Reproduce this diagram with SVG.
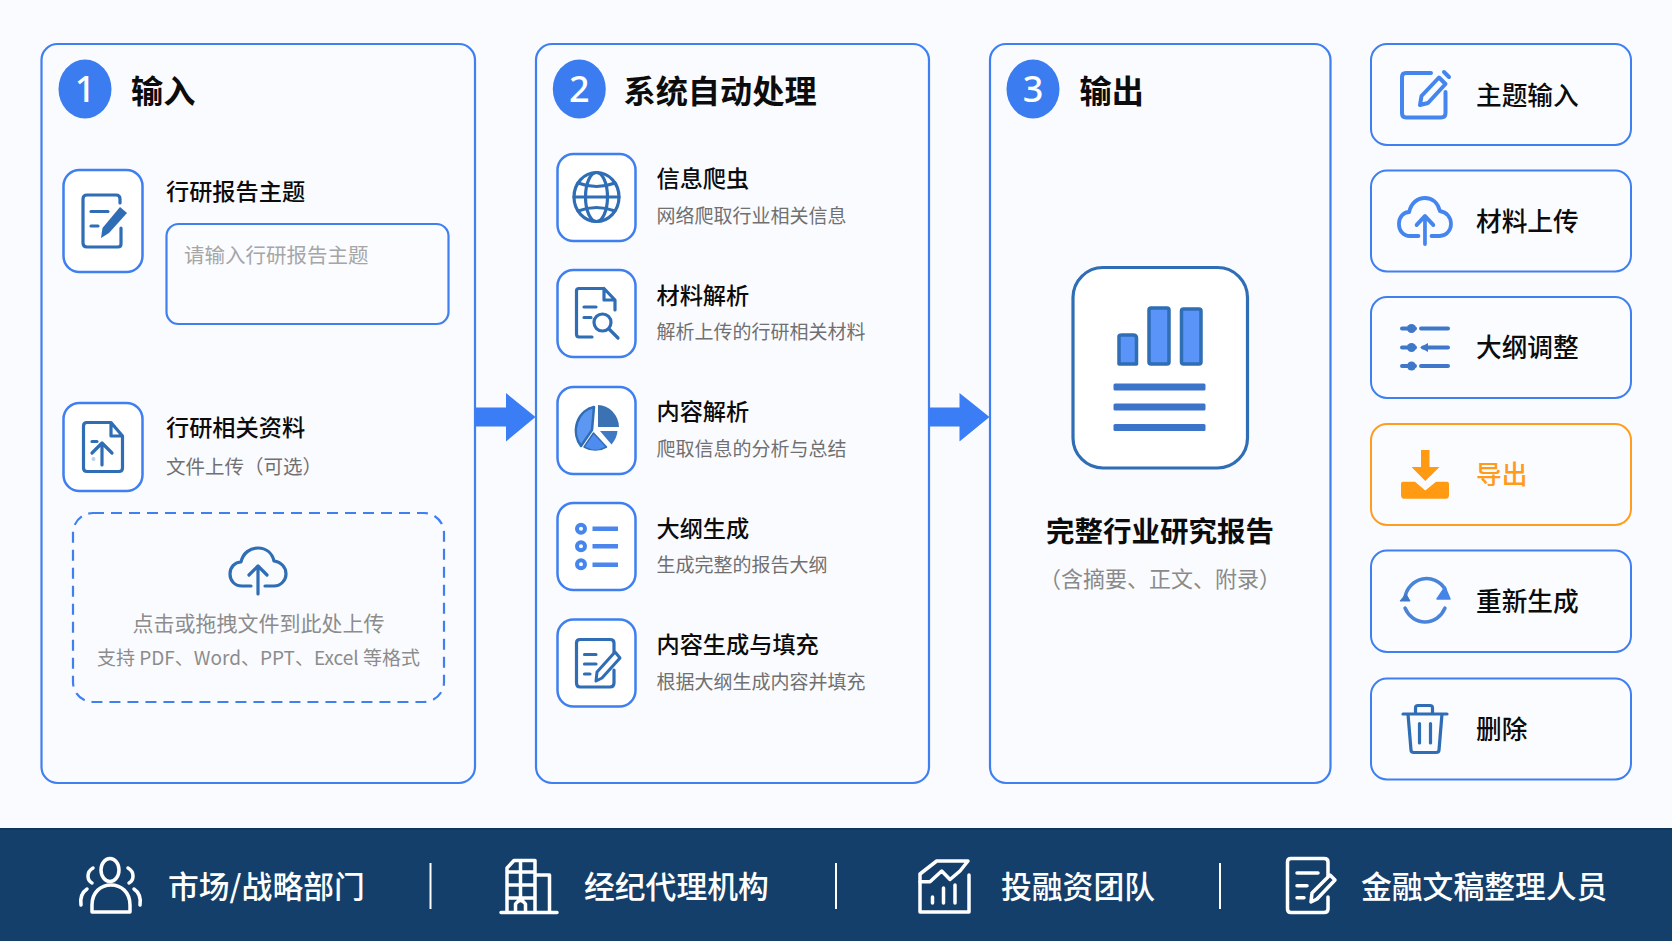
<svg xmlns="http://www.w3.org/2000/svg" width="1672" height="941" viewBox="0 0 1672 941">
<style>
text{font-family:"Noto Sans CJK SC","Noto Sans",sans-serif}
.panel{fill:#fafbff;stroke:#3f7ff0;stroke-width:2.2}
.box{fill:#fff;stroke:#3f7ff0;stroke-width:2.500}
.btn{fill:#fbfcff;stroke:#3f7ff0;stroke-width:2}
.badge{fill:#3b7df0}
.num{fill:#fff;font-size:36px;font-weight:500;text-anchor:middle;font-family:"Noto Sans","Liberation Sans",sans-serif}
.h1{fill:#0c0c0c;font-size:32.200px;font-weight:700}
.h2{fill:#0c0c0c;font-size:23.200px;font-weight:500}
.sub{fill:#707070;font-size:19px}
.btxt{fill:#0c0c0c;font-size:25.700px;font-weight:500}
.foot{fill:#fff;font-size:30.800px;font-weight:500}
.ic{fill:none;stroke:#2f6db5;stroke-width:3.200;stroke-linecap:round;stroke-linejoin:round}
.icb{fill:none;stroke:#4585ee;stroke-width:4;stroke-linecap:round;stroke-linejoin:round}
.icw{fill:none;stroke:#fff;stroke-width:3.500;stroke-linecap:round;stroke-linejoin:round}
.sep{stroke:#fff;stroke-width:2}
</style>
<defs>
<g id="cloud">
<path d="M22 39H13C5 39 1 33 1 27C1 20 6 15 12 15C14 6 21 1 29 1C37 1 43 6 45 14C52 15 57 20 57 27C57 33 52 39 45 39H36"/>
<path d="M29 47V20M20 28L29 19L38 28"/>
</g>
</defs>
<rect width="1672" height="941" fill="#fafbfe"/>

<g id="panel-input">
<rect class="panel" x="41.500" y="44" width="433.500" height="739" rx="16"/>
<ellipse class="badge" cx="85" cy="89" rx="26.500" ry="29.500"/>
<text class="num" x="85" y="102">1</text>
<text class="h1" x="131" y="103">输入</text>
</g>
<g id="node-topic">
<rect class="box" x="63.500" y="170" width="79" height="102" rx="16"/>
<path class="ic" d="M120 203V199Q120 195 116 195H87Q83 195 83 199V243Q83 247 87 247H118Q121 247 121 244V228M91 211.500H108M91 226H98"/>
<path d="M101 238L102.500 228L120 207L127 213L109 233Z" fill="#2f6db5"/>
<text class="h2" x="166" y="200">行研报告主题</text>
<rect x="166.500" y="224" width="282" height="100" rx="12" fill="#fbfcff" stroke="#3f7ff0" stroke-width="2.200"/>
<text x="184" y="263" font-size="20.500" fill="#a6a6a6">请输入行研报告主题</text>
</g>
<g id="node-material">
<rect class="box" x="63.500" y="403" width="79" height="88" rx="16"/>
<path class="ic" d="M111 422.500H87Q83.500 422.500 83.500 426V468Q83.500 471.500 87 471.500H119Q122.500 471.500 122.500 468V436ZM111 422.500V436H122.500"/>
<path class="ic" d="M102 465V443M92 453L102 443L112 453M92 441.500H97"/>
<circle cx="93.500" cy="459" r="2" fill="#b9d0ef"/>
<text class="h2" x="166" y="436">行研相关资料</text>
<text class="sub" x="166" y="474" style="font-size:19.500px">文件上传（可选）</text>
</g>
<g id="node-dropzone">
<rect x="73" y="513" width="371" height="189" rx="20" fill="none" stroke="#3f7ff0" stroke-width="2.200" stroke-dasharray="11 7"/>
<use href="#cloud" class="ic" transform="translate(229 547)"/>
<text x="258.500" y="631" font-size="21" fill="#8c8c8c" text-anchor="middle">点击或拖拽文件到此处上传</text>
<text x="258.500" y="665" font-size="19" fill="#8c8c8c" text-anchor="middle">支持 PDF、Word、PPT、Excel 等格式</text>
</g>

<g id="panel-process">
<rect class="panel" x="536" y="44" width="393" height="739" rx="16"/>
<ellipse class="badge" cx="579.300" cy="89" rx="26.500" ry="29.500"/>
<text class="num" x="579.300" y="102">2</text>
<text class="h1" x="623.500" y="103">系统自动处理</text>
</g>
<g id="node-crawler">
<rect class="box" x="557.500" y="154" width="78" height="87" rx="16"/>
<ellipse class="ic" cx="596.500" cy="197" rx="22.500" ry="24.500"/>
<ellipse class="ic" cx="596.500" cy="197" rx="11" ry="24.500"/>
<path class="ic" d="M574 197H619M578 183Q596.500 190 615 183M578 211Q596.500 204 615 211"/>
<text class="h2" x="656.500" y="187">信息爬虫</text>
<text class="sub" x="656.500" y="223">网络爬取行业相关信息</text>
</g>
<g id="node-parse">
<rect class="box" x="557.500" y="270" width="78" height="87" rx="16"/>
<path class="ic" d="M604 288.500H579Q576.500 288.500 576.500 291V334Q576.500 337 579 337H592M604 288.500L615 300V310M604 288.500V300H615M584 307H596M584 317.500H591"/>
<circle class="ic" cx="602.500" cy="322.500" r="8.500"/>
<path class="ic" d="M609 329L618 338"/>
<text class="h2" x="656.500" y="303.500">材料解析</text>
<text class="sub" x="656.500" y="339">解析上传的行研相关材料</text>
</g>
<g id="node-content">
<rect class="box" x="557.500" y="387" width="78" height="87" rx="16"/>
<path d="M594 407A22 24 0 0 0 581 446L592 430Z" fill="#5c98f2" stroke="#2f6db5" stroke-width="2.500" stroke-linejoin="round"/>
<path d="M593.500 433L584 447A22 22 0 0 0 606.500 447Z" fill="#4f8cf0" stroke="#2f6db5" stroke-width="1.500" stroke-linejoin="round"/>
<path d="M600 431H617.500Q617 438 611.500 444.500Z" fill="#3f79c4"/>
<path d="M598 405A21 23 0 0 1 619 427H598Z" fill="#3a72b4"/>
<text class="h2" x="656.500" y="420">内容解析</text>
<text class="sub" x="656.500" y="456">爬取信息的分析与总结</text>
</g>
<g id="node-outline">
<rect class="box" x="557.500" y="503" width="78" height="87" rx="16"/>
<circle class="icb" cx="581" cy="528.700" r="4"/><circle class="icb" cx="581" cy="546.300" r="4"/><circle class="icb" cx="581" cy="564.300" r="4"/>
<path d="M592.500 528.700H618M592.500 546.300H618M592.500 564.700H618" stroke="#4a86ee" stroke-width="4.500" fill="none"/>
<text class="h2" x="656.500" y="537">大纲生成</text>
<text class="sub" x="656.500" y="572">生成完整的报告大纲</text>
</g>
<g id="node-fill">
<rect class="box" x="557.500" y="619.500" width="78" height="87" rx="16"/>
<path class="ic" d="M614 652V643Q614 639.500 610 639.500H580Q576.500 639.500 576.500 643V683Q576.500 687 580 687H610Q614 687 614 683V670M584.500 654.500H596M584.500 664H596M584.500 674H590"/>
<path d="M596 681L597 672L615 652L620 658L602 678Z" fill="#fff" stroke="#2f6db5" stroke-width="3" stroke-linejoin="round"/>
<text class="h2" x="656.500" y="652.500">内容生成与填充</text>
<text class="sub" x="656.500" y="689">根据大纲生成内容并填充</text>
</g>

<g id="panel-output">
<rect class="panel" x="990" y="44" width="340.500" height="739" rx="16"/>
<ellipse class="badge" cx="1033" cy="89" rx="26.500" ry="29.500"/>
<text class="num" x="1033" y="102">3</text>
<text class="h1" x="1079.500" y="103">输出</text>
</g>
<g id="node-report">
<rect x="1073" y="267.500" width="174.500" height="200.500" rx="30" fill="#fff" stroke="#2f6db5" stroke-width="3.200"/>
<g fill="#5b94f8" stroke="#2f6db5" stroke-width="3.500" stroke-linejoin="round">
<path d="M1119 336.500Q1119 335 1122 335H1133Q1136.500 335 1136.500 338V364H1119Z"/>
<rect x="1149" y="308" width="20" height="56" rx="2"/>
<rect x="1181.500" y="309" width="19.500" height="55" rx="2"/>
</g>
<rect x="1113.500" y="383.500" width="92" height="7" rx="1.500" fill="#3b74c8"/>
<rect x="1113.500" y="403.500" width="92" height="7" rx="1.500" fill="#3b74c8"/>
<rect x="1113.500" y="424" width="92" height="7" rx="1.500" fill="#3b74c8"/>
<text x="1160" y="542" font-size="28.500" font-weight="700" fill="#0c0c0c" text-anchor="middle">完整行业研究报告</text>
<text x="1160" y="587" font-size="22" fill="#8a8a8a" text-anchor="middle">（含摘要、正文、附录）</text>
</g>

<g id="btn-topic">
<rect class="btn" x="1371" y="44" width="260" height="101" rx="16"/>
<path class="icb" d="M1431 73H1406Q1402 73 1402 77V113Q1402 117.500 1406 117.500H1441Q1445.500 117.500 1445.500 113V92"/>
<path class="icb" d="M1420 105L1421.500 96L1439 77.500L1445.500 84L1428 103ZM1444 72L1449 77" stroke-width="3.500"/>
<text class="btxt" x="1476" y="105">主题输入</text>
</g>
<g id="btn-upload">
<rect class="btn" x="1371" y="170.500" width="260" height="101" rx="16"/>
<use href="#cloud" class="icb" transform="translate(1398 197) scale(.93 1)"/>
<text class="btxt" x="1476" y="231">材料上传</text>
</g>
<g id="btn-outline">
<rect class="btn" x="1371" y="297" width="260" height="101" rx="16"/>
<path d="M1402 328.500H1415M1421 328.500H1448M1402 347.500H1415M1423 347.500H1448M1402 366H1415M1421 366H1448" stroke="#3f78c8" stroke-width="4" stroke-linecap="round" fill="none"/>
<circle cx="1411.500" cy="328.500" r="4.500" fill="#3f78c8"/><circle cx="1411.500" cy="347.500" r="4.500" fill="#3f78c8"/><circle cx="1411.500" cy="366" r="4.500" fill="#3f78c8"/>
<path d="M1420 347.500L1428 343V352Z" fill="#3f78c8"/>
<text class="btxt" x="1476" y="357">大纲调整</text>
</g>
<g id="btn-export">
<rect class="btn" x="1371" y="424" width="260" height="101" rx="16" style="stroke:#ff9d1f"/>
<path d="M1421 450H1429.500V467H1439.500L1425.300 481L1411.500 467H1421Z" fill="#ff9a12"/>
<path d="M1403 481.700H1415L1425.300 490.500L1436 481.700H1447Q1449 481.700 1449 484V495Q1449 498.700 1446 498.700H1404Q1401 498.700 1401 495V484Q1401 481.700 1403 481.700Z" fill="#ff9a12"/>
<text class="btxt" x="1476" y="484" style="fill:#ff9a1a">导出</text>
</g>
<g id="btn-regen">
<rect class="btn" x="1371" y="550.500" width="260" height="101.500" rx="16"/>
<path d="M1405 597A22 23 0 0 1 1445 589M1445 608A22 24 0 0 1 1405 608" fill="none" stroke="#4a84d8" stroke-width="3.500" stroke-linecap="round"/>
<path d="M1437 599H1450L1445 587Z" fill="#4585e8" stroke="#4585e8" stroke-width="1.500" stroke-linejoin="round"/>
<path d="M1400 601H1410L1406 594Z" fill="#3f78c8" stroke="#3f78c8" stroke-width="1" stroke-linejoin="round"/>
<text class="btxt" x="1476" y="611">重新生成</text>
</g>
<g id="btn-delete">
<rect class="btn" x="1371" y="678.500" width="260" height="101" rx="16"/>
<path class="ic" d="M1403 714H1447M1415.500 713V708Q1415.500 705.500 1418 705.500H1430Q1432.500 705.500 1432.500 708V713M1408 714L1411 750Q1411 752.500 1414 752.500H1436Q1439 752.500 1439 750L1442 714M1419.500 723.500V743M1430.500 723.500V743"/>
<text class="btxt" x="1476" y="739">删除</text>
</g>

<g id="connectors">
<path d="M475 407.500H506V393L535.500 417L506 441.500V426.500H475Z" fill="#3b7df5"/>
<path d="M929 407.500H959.500V393L989.500 417L959.500 441.500V426.500H929Z" fill="#3b7df5"/>
</g>

<g id="footer">
<rect y="828" width="1672" height="113" fill="#143f6b"/>
<rect y="828" width="1672" height="1.500" fill="#0e3358"/>
<line class="sep" x1="430.500" y1="863" x2="430.500" y2="909"/>
<line class="sep" x1="836" y1="863" x2="836" y2="909"/>
<line class="sep" x1="1220" y1="863" x2="1220" y2="909"/>
</g>
<g id="role-market">
<ellipse class="icw" cx="110" cy="870" rx="9" ry="11.500"/>
<path class="icw" d="M92 912V905C92 892 101 885 111 885C121 885 130 892 130 905V912Z"/>
<path class="icw" d="M93 868Q88 871 88 876Q88 881 92 883M128 868Q133 871 133 876Q133 881 129 883M87 889C81 893 80 898 81 905M134 889C140 893 141 898 140 905"/>
<text class="foot" x="168" y="898">市场/战略部门</text>
</g>
<g id="role-agency">
<path class="icw" d="M501 912.500H557M507 912V868L514 860.500H535V912M535 875H549.500V912M507 872H535M507 885H535M520.500 860.500V897M507 898H535M515.500 912V904Q520.500 897 525.500 904V912"/>
<text class="foot" x="584" y="898">经纪代理机构</text>
</g>
<g id="role-invest">
<path class="icw" d="M920 882V912H969V875"/>
<path class="icw" d="M920 874L936.700 861H968L960 871L950 879.500L941.700 871L930 881.700H920Z"/>
<path class="icw" stroke-width="3" d="M932.500 903V897M943.500 903V888M955 903V885"/>
<text class="foot" x="1001" y="898">投融资团队</text>
</g>
<g id="role-docs">
<path class="icw" d="M1328 876V862Q1328 858.500 1324 858.500H1291Q1287.500 858.500 1287.500 862V909Q1287.500 912.500 1291 912.500H1324Q1328 912.500 1328 909V897M1297 873H1318M1297 885.700H1307M1297 897.700H1304"/>
<path class="icw" d="M1311 902L1312 893L1330 875L1335 880L1317 899Z"/>
<text class="foot" x="1361" y="898">金融文稿整理人员</text>
</g>
</svg>
